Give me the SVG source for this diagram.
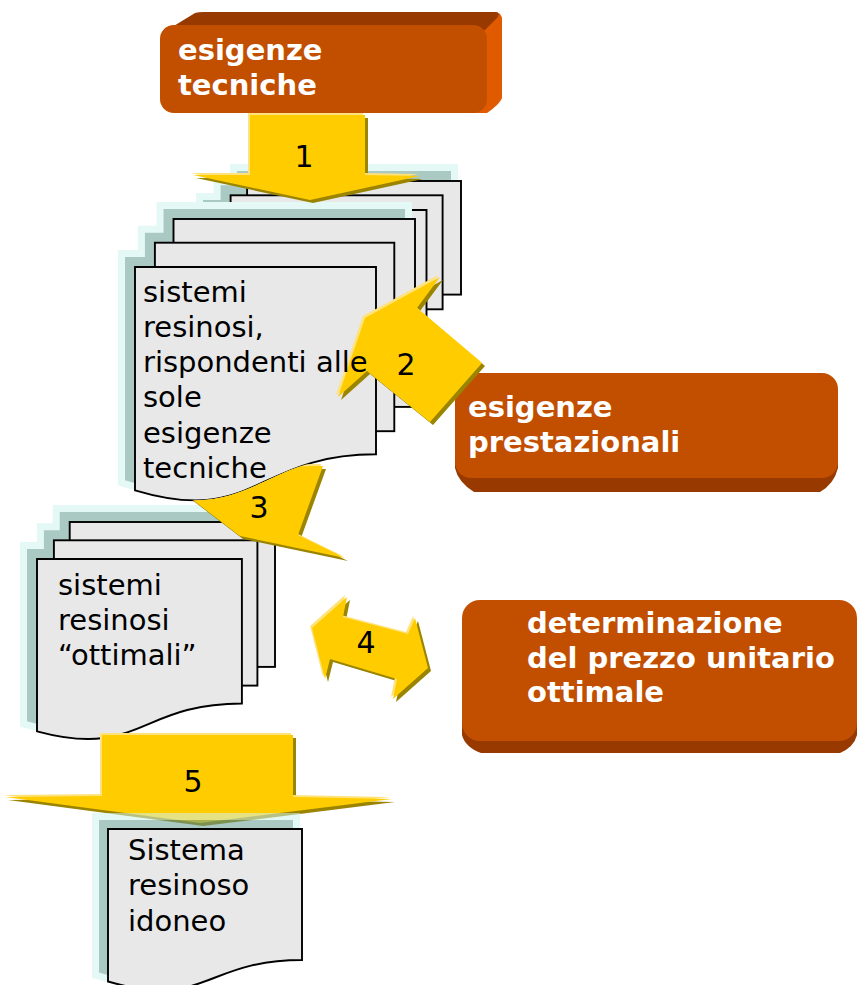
<svg xmlns="http://www.w3.org/2000/svg" width="861" height="985" viewBox="0 0 861 985">
  <style>
    .pg{fill:#e8e8e8;stroke:#000;stroke-width:1.9;stroke-linejoin:miter}
    .shd{fill:#aac9c3}
    .halo{fill:#e4f9f5;stroke:#e4f9f5;stroke-width:14;stroke-linejoin:miter}
    .shd2{fill:#659d92}
    .halo2{fill:#cef4ed;stroke:#cef4ed;stroke-width:14;stroke-linejoin:miter}
    .ash{fill:#9a8400}
    .ahl{fill:#ffe27a}
    .afill{fill:#ffcc00}
    .face{fill:#c24e00}
    .bevel{fill:#983a00}
    .side{fill:#e05a00}
    .btxt{font-family:"DejaVu Sans",Verdana,sans-serif;font-weight:bold;font-size:29px;fill:#fff}
    .dtxt{font-family:"DejaVu Sans",Verdana,sans-serif;font-size:29px;fill:#000}
    .num{font-family:"DejaVu Sans",Verdana,sans-serif;font-size:30px;fill:#000;text-anchor:middle}
  </style>
  <defs>
    <!-- silhouettes of the page stacks, used for their drop shadows -->
    <path id="sil-md1" d="M247.1,181H461V294.6H247.1Z M230.6,195.3H442.6V309.3H230.6Z M213,210H426.5V323.3C319.8,323.3 319.8,366.8 213,345Z"/>
    <path id="sil-md2" d="M173.5,219H415V406.9H173.5Z M154.9,242.7H394.3V431.2H154.9Z M135,267H376V454.3C255.5,454.3 255.5,526.4 135,490.3Z"/>
    <path id="sil-md3" d="M69.7,522H275V666.9H69.7Z M53.9,540.3H257.4V685.6H53.9Z M37,559H241.9V703.5C139.5,703.5 139.5,759 37,731.3Z"/>
    <path id="sil-doc" d="M108,829H302V960C205,960 205,1009.9 108,981.5Z"/>
    <!-- block arrows -->
    <polygon id="ar1" points="250,115 365,115 365,175 420,176 310,200 193,175 250,175"/>
    <polygon id="ar2" points="440,277 417,308 482,363 430,422 367,371 338,397 365,318"/>
    <polygon id="ar3" points="323,466 298,535 345,558 240,536 172,484 180,468"/>
    <polygon id="ar4" points="312,628 347,597 343,617 408,634 415,618 428,668 393,699 397,679 330,659 325,679"/>
    <polygon id="ar5" points="102,735 293,735 293,797 392,799 200,823 5,797 102,796"/>
    <!-- everything except the front page of the upper stack -->
    <clipPath id="outside-front">
      <path clip-rule="evenodd" d="M0,0H861V985H0Z M135,267H376V454.3C255.5,454.3 255.5,526.4 135,490.3Z"/>
    </clipPath>
  </defs>

  <!-- stack: sistemi resinosi "ottimali" -->
  <g id="stack-ottimali">
    <use href="#sil-md3" class="halo" transform="translate(-10,-10)"/>
    <use href="#sil-md3" class="shd" transform="translate(-10,-10)"/>
    <rect class="pg" x="69.7" y="522" width="205.3" height="144.9"/>
    <rect class="pg" x="53.9" y="540.3" width="203.5" height="145.3"/>
    <path class="pg" d="M37,559H241.9V703.5C139.5,703.5 139.5,759 37,731.3Z"/>
    <text class="dtxt" x="58" y="595">sistemi</text>
    <text class="dtxt" x="58" y="630">resinosi</text>
    <text class="dtxt" x="58" y="665">“ottimali”</text>
  </g>

  <!-- stack: sistemi resinosi rispondenti alle sole esigenze tecniche -->
  <g id="stack-tecnici">
    <use href="#sil-md1" class="halo" transform="translate(-10,-10)"/>
    <use href="#sil-md1" class="shd" transform="translate(-10,-10)"/>
    <rect class="pg" x="247.1" y="181" width="213.9" height="113.6"/>
    <rect class="pg" x="230.6" y="195.3" width="212" height="114"/>
    <path class="pg" d="M213,210H426.5V323.3C319.8,323.3 319.8,366.8 213,345Z"/>
    <use href="#sil-md2" class="halo" transform="translate(-10,-10)"/>
    <use href="#sil-md2" class="shd" transform="translate(-10,-10)"/>
    <rect class="pg" x="173.5" y="219" width="241.5" height="187.9"/>
    <rect class="pg" x="154.9" y="242.7" width="239.4" height="188.5"/>
    <path class="pg" d="M135,267H376V454.3C255.5,454.3 255.5,526.4 135,490.3Z"/>
  </g>

  <!-- esigenze prestazionali -->
  <g id="esigenze-prestazionali">
    <path class="bevel" d="M455,440V468Q458,482 474,492H820Q834,484 838,468V440Z"/>
    <rect class="face" x="455" y="373" width="383" height="105" rx="16"/>
    <text class="btxt" x="468" y="417">esigenze</text>
    <text class="btxt" x="468" y="452">prestazionali</text>
  </g>

  <!-- determinazione del prezzo unitario ottimale -->
  <g id="prezzo-ottimale">
    <path class="bevel" d="M462,700V735Q465,747 481,753H840Q854,747 857,735V700Z"/>
    <rect class="face" x="462" y="600" width="395" height="141" rx="18"/>
    <text class="btxt" x="527" y="633">determinazione</text>
    <text class="btxt" x="527" y="668">del prezzo unitario</text>
    <text class="btxt" x="527" y="702">ottimale</text>
  </g>

  <!-- numbered block arrows -->
  <g id="connectors">
    <g id="step-1">
      <use href="#ar1" class="ash" transform="translate(3,3)"/>
      <use href="#ar1" class="ahl" transform="translate(-2,-2)"/>
      <use href="#ar1" class="afill"/>
      <text class="num" x="304" y="167">1</text>
    </g>
    <g id="step-2">
      <use href="#ar2" class="ash" transform="translate(3,3)"/>
      <use href="#ar2" class="ahl" transform="translate(-2,-2)"/>
      <use href="#ar2" class="afill"/>
      <text class="num" x="406" y="375">2</text>
    </g>
    <g id="step-3" clip-path="url(#outside-front)">
      <use href="#ar3" class="ash" transform="translate(3,3)"/>
      <use href="#ar3" class="ahl" transform="translate(-2,-2)"/>
      <use href="#ar3" class="afill"/>
      <text class="num" x="259" y="518">3</text>
    </g>
    <g id="step-4">
      <use href="#ar4" class="ash" transform="translate(3,3)"/>
      <use href="#ar4" class="ahl" transform="translate(-2,-2)"/>
      <use href="#ar4" class="afill"/>
      <text class="num" x="366" y="653">4</text>
    </g>
    <g id="step-5">
      <use href="#ar5" class="ash" transform="translate(3,3)"/>
      <use href="#ar5" class="ahl" transform="translate(-2,-2)"/>
      <use href="#ar5" class="afill"/>
      <text class="num" x="193" y="792">5</text>
    </g>
  </g>

  <!-- esigenze tecniche -->
  <g id="esigenze-tecniche">
    <path class="side" d="M470,20L494,12Q502,12 502,20V98Q500,104 487,113H470Z"/>
    <path class="bevel" d="M164,32L195,13Q198,12 204,12H496Q501,13 497,18L485,30Z"/>
    <rect class="face" x="160" y="25" width="327" height="88" rx="14"/>
    <text class="btxt" x="178" y="60">esigenze</text>
    <text class="btxt" x="178" y="95">tecniche</text>
  </g>

  <!-- text of the front page of the upper stack -->
  <g id="stack-tecnici-label">
    <text class="dtxt" x="143" y="302">sistemi</text>
    <text class="dtxt" x="143" y="337">resinosi,</text>
    <text class="dtxt" x="143" y="372">rispondenti alle</text>
    <text class="dtxt" x="143" y="407">sole</text>
    <text class="dtxt" x="143" y="443">esigenze</text>
    <text class="dtxt" x="143" y="478">tecniche</text>
  </g>

  <!-- Sistema resinoso idoneo -->
  <g id="sistema-idoneo">
    <g opacity="0.55">
      <use href="#sil-doc" class="halo2" transform="translate(-9,-9)"/>
      <use href="#sil-doc" class="shd2" transform="translate(-9,-9)"/>
    </g>
    <path class="pg" d="M108,829H302V960C205,960 205,1009.9 108,981.5Z"/>
    <text class="dtxt" x="128" y="860">Sistema</text>
    <text class="dtxt" x="128" y="895">resinoso</text>
    <text class="dtxt" x="128" y="931">idoneo</text>
  </g>
</svg>
